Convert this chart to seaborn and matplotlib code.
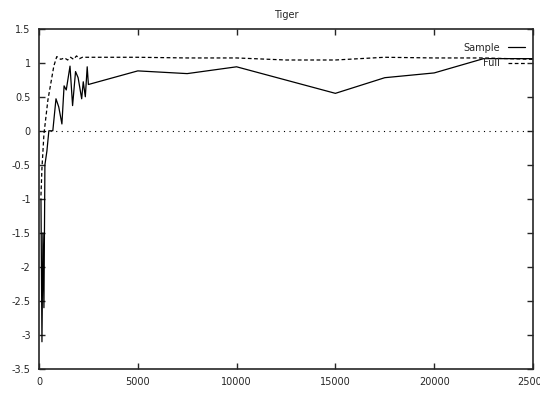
import numpy as np
import pandas as pd
import matplotlib
matplotlib.use("Agg")
import matplotlib.pyplot as plt
import seaborn as sns

sns.set_style("ticks")
plt.rcParams['font.family'] = ['DejaVu Sans']

# Sample series (solid)
sample_x = [100, 150, 200, 250, 300, 400, 500, 600, 700, 860, 1000, 1160, 1270, 1380,
            1570, 1700, 1850, 1980, 2160, 2240, 2345, 2440, 2500,
            5000, 7500, 10000, 15000, 17500, 20000, 22500, 25000]
sample_y = [-1.0, -3.1, -1.5, -2.6, -0.5, -0.3, 0.0, 0.0, 0.0, 0.47, 0.35, 0.1, 0.66, 0.6,
            0.95, 0.37, 0.87, 0.78, 0.47, 0.72, 0.5, 0.94, 0.68,
            0.88, 0.84, 0.94, 0.55, 0.78, 0.85, 1.06, 1.06]

# Full series (dashed)
full_x = [100, 150, 200, 250, 350, 450, 600, 750, 900, 1100, 1300, 1450, 1600, 1750,
          1900, 2050, 2200, 2500, 5000, 7500, 10000, 12500, 15000, 17500, 20000, 22500, 25000]
full_y = [-0.95, -0.55, -0.3, -0.05, 0.2, 0.45, 0.7, 0.95, 1.09, 1.05, 1.07, 1.04, 1.08, 1.05,
          1.1, 1.06, 1.08, 1.08, 1.08, 1.07, 1.07, 1.04, 1.04, 1.08, 1.07, 1.07, 1.05]

y_ticks = [-3.5, -3, -2.5, -2, -1.5, -1, -0.5, 0, 0.5, 1, 1.5]
y_labels = ['-3.5', '-3', '-2.5', '-2', '-1.5', '-1', '-0.5', '0', '0.5', '1', '1.5']
x_ticks = [0, 5000, 10000, 15000, 20000, 25000]
x_labels = ['0', '5000', '10000', '15000', '20000', '25000']

df_s = pd.DataFrame({'x': sample_x, 'y': sample_y})
df_f = pd.DataFrame({'x': full_x, 'y': full_y})

fig = plt.figure(figsize=(5.4, 3.93), dpi=100)
ax = fig.add_axes([0.0722, 0.0611, 0.9148, 0.8659])

ax.axhline(0, color='black', lw=0.8, ls=(0, (1, 4)))
sns.lineplot(data=df_s, x='x', y='y', ax=ax, color='black', lw=0.9,
             sort=False, estimator=None, label='Sample')
sns.lineplot(data=df_f, x='x', y='y', ax=ax, color='black', lw=0.9, ls=(0, (3, 2)),
             sort=False, estimator=None, label='Full')

ax.set_xlim(0, 25000)
ax.set_ylim(-3.5, 1.5)
ax.set_xticks(x_ticks)
ax.set_xticklabels(x_labels)
ax.set_yticks(y_ticks)
ax.set_yticklabels(y_labels)
ax.tick_params(direction='in', top=True, right=True, length=4, width=1,
               labelsize=7, pad=6)
ax.set_xlabel('')
ax.set_ylabel('')
for s in ax.spines.values():
    s.set_linewidth(1.2)
ax.set_title('Tiger', fontsize=7, pad=8)

leg = ax.legend(loc='upper right', frameon=False, fontsize=7, markerfirst=False,
                handlelength=1.8, handletextpad=0.8, borderaxespad=0.4,
                labelspacing=0.55, bbox_to_anchor=(1.0, 0.982))

fig.savefig('out.png', dpi=100)
